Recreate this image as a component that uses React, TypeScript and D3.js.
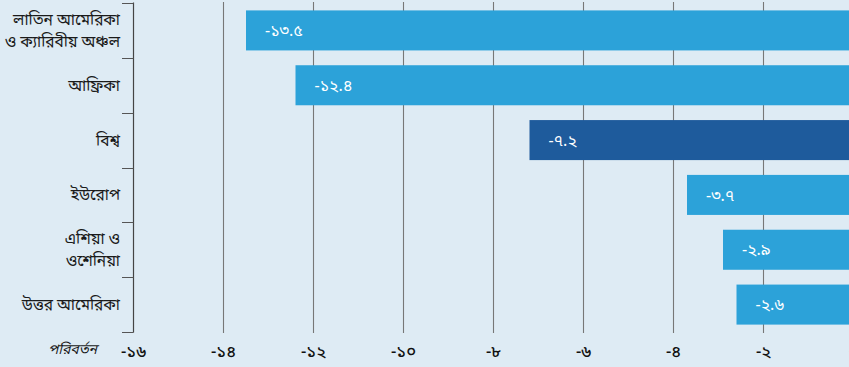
import React from "react";
import * as d3 from "d3";

const categories: string[][] = [
  ["লাতিন আমেরিকা", "ও ক্যারিবীয় অঞ্চল"],
  ["আফ্রিকা"],
  ["বিশ্ব"],
  ["ইউরোপ"],
  ["এশিয়া ও", "ওশেনিয়া"],
  ["উত্তর আমেরিকা"],
];
const values: number[] = [-13.5, -12.4, -7.2, -3.7, -2.9, -2.6];
const valueLabels: string[] = ["-১৩.৫", "-১২.৪", "-৭.২", "-৩.৭", "-২.৯", "-২.৬"];
const highlight: boolean[] = [false, false, true, false, false, false];
const tickValues: number[] = [-16, -14, -12, -10, -8, -6, -4, -2, 0];
const tickLabels: string[] = ["-১৬", "-১৪", "-১২", "-১০", "-৮", "-৬", "-৪", "-২", "০"];
const axisTitle = "পরিবর্তন";

const W = 849;
const H = 367;
const FONT = "'Noto Sans Bengali', 'Noto Serif Bengali', 'Lohit Bengali', 'Noto Sans', sans-serif";

export default function App() {
  const x = d3.scaleLinear().domain([-16, 0]).range([133.5, 853.5]);
  const y = d3
    .scaleBand<number>()
    .domain(d3.range(categories.length))
    .range([3, 332])
    .paddingInner(0.27)
    .paddingOuter(0.135);
  const band = d3.scaleBand<number>().domain(d3.range(categories.length)).range([3, 332]);
  const bw = y.bandwidth();

  return (
    <svg
      width={W}
      height={H}
      style={{ position: "absolute", left: 0, top: 0, display: "block" }}
      fontFamily={FONT}
    >
      <rect x={0} y={0} width={W} height={H} fill="#deebf4" />
      {/* gridlines */}
      {tickValues.slice(1).map((t) => (
        <line key={"g" + t} x1={x(t)} x2={x(t)} y1={2} y2={333} stroke="#777777" strokeWidth={1.1} />
      ))}
      {/* bars */}
      {values.map((v, i) => (
        <g key={"b" + i}>
          <rect
            x={x(v)}
            y={y(i)!}
            width={x(0) - x(v)}
            height={bw}
            fill={highlight[i] ? "#1e5b9c" : "#2ca2d9"}
          />
          <text
            x={x(v) + 19}
            y={y(i)! + bw / 2}
            dy="0.35em"
            fill="#ffffff"
            fontSize={16}
          >
            {valueLabels[i]}
          </text>
        </g>
      ))}
      {/* y axis */}
      <line x1={133.5} x2={133.5} y1={2.5} y2={332.5} stroke="#444" strokeWidth={1.2} />
      {d3.range(categories.length + 1).map((i) => {
        const yy = Math.round(i < categories.length ? band(i)! : 332) + 0.5;
        return <line key={"t" + i} x1={122} x2={133.5} y1={yy} y2={yy} stroke="#555" strokeWidth={1} />;
      })}
      {categories.map((lines, i) => {
        const cy = band(i)! + band.bandwidth() / 2;
        const lh = 22;
        return (
          <text key={"c" + i} x={120} textAnchor="end" fill="#1a1a1a" fontSize={15.5}>
            {lines.map((ln, j) => (
              <tspan key={j} x={120} y={cy + (j - (lines.length - 1) / 2) * lh} dy="0.35em">
                {ln}
              </tspan>
            ))}
          </text>
        );
      })}
      {/* x tick labels */}
      {tickValues.map((t, i) => (
        <text
          key={"x" + t}
          x={x(t)}
          y={351}
          dy="0.35em"
          textAnchor="middle"
          fill="#111111"
          fontSize={16.5}
          fontWeight={500}
        >
          {tickLabels[i]}
        </text>
      ))}
      <text x={97} y={349} dy="0.35em" textAnchor="end" fontStyle="italic" fontSize={14} fill="#1a1a1a">
        {axisTitle}
      </text>
    </svg>
  );
}
